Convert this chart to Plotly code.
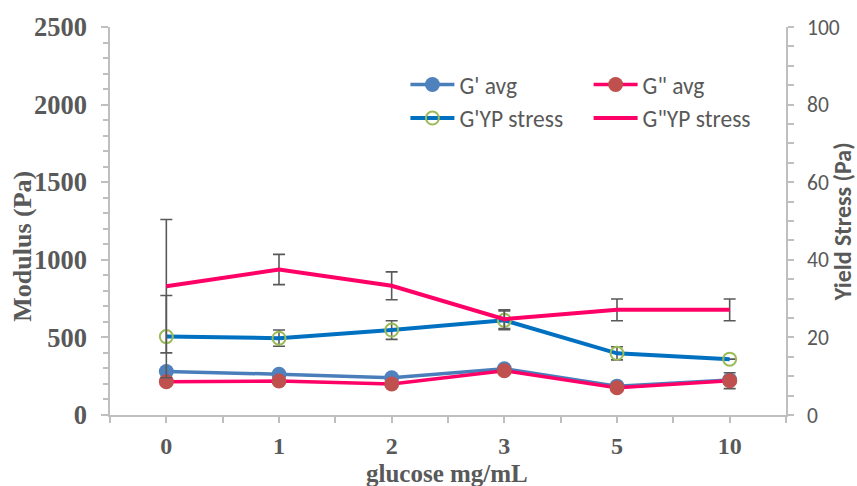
import plotly.graph_objects as go

# glucose concentration categories (mg/mL)
categories = ["0", "1", "2", "3", "5", "10"]

# storage / loss modulus averages (Pa), left axis
g_storage_avg = [280, 263, 240, 298, 186, 226]
g_loss_avg = [215, 219, 200, 285, 176, 221]
g_loss_avg_err = [0, 0, 0, 0, 0, 51]

# moduli at the yield point (Pa), right axis
g_storage_yp = [20.2, 19.8, 21.9, 24.4, 15.9, 14.4]
g_storage_yp_err = [10.6, 2.1, 2.4, 2.4, 1.7, 0.0]
g_loss_yp = [33.2, 37.5, 33.3, 24.7, 27.1, 27.1]
g_loss_yp_err = [17.2, 3.9, 3.6, 2.4, 2.8, 2.8]

left_ticks = [0, 500, 1000, 1500, 2000, 2500]
right_ticks = [0, 20, 40, 60, 80, 100]

TXT = "#595959"
AX = "#BFBFBF"
SERIF = "Times New Roman, Liberation Serif, serif"
SANS = "Calibri, Carlito, Open Sans, sans-serif"

xs = list(range(len(categories)))
err_style = dict(type="data", color="#595959", thickness=1.6, width=6)

fig = go.Figure()

fig.add_trace(go.Scatter(
    x=xs, y=g_storage_avg, name="G' avg", mode="lines+markers",
    line=dict(color="#4A7EBB", width=3.5),
    marker=dict(color="#4F81BD", size=15),
    legend="legend", legendgroup="a", yaxis="y"))
fig.add_trace(go.Scatter(
    x=xs, y=g_loss_avg, name='G" avg', mode="lines+markers",
    line=dict(color="#FF0066", width=3.5),
    marker=dict(color="#C0504D", size=15),
    error_y=dict(array=g_loss_avg_err, **err_style),
    legend="legend2", legendgroup="b", yaxis="y"))
fig.add_trace(go.Scatter(
    x=xs, y=g_storage_yp, name="G'YP stress", mode="lines+markers",
    line=dict(color="#0070C0", width=4),
    marker=dict(symbol="circle-open", color="#9BBB59", size=13,
                line=dict(width=2, color="#9BBB59")),
    error_y=dict(array=g_storage_yp_err, **err_style),
    legend="legend", legendgroup="c", yaxis="y2"))
fig.add_trace(go.Scatter(
    x=xs, y=g_loss_yp, name='G"YP stress', mode="lines",
    line=dict(color="#FF0066", width=4),
    error_y=dict(array=g_loss_yp_err, **err_style),
    legend="legend2", legendgroup="d", yaxis="y2"))

tick_common = dict(showgrid=False, zeroline=False, showline=True,
                   linecolor=AX, linewidth=1.5, tickcolor=AX, tickwidth=1.5)

legend_common = dict(font=dict(family=SANS, size=23.5, color=TXT),
                     bgcolor="rgba(0,0,0,0)", tracegroupgap=0,
                     xanchor="left", yanchor="top", itemwidth=44)

minor_x = [i + 0.5 for i in range(-1, len(categories))]

fig.update_layout(
    width=857, height=486,
    margin=dict(l=110, r=71, t=27, b=71),
    paper_bgcolor="white", plot_bgcolor="white",
    showlegend=True,
    xaxis=dict(range=[-0.5, len(categories) - 0.5], tickvals=xs,
               ticktext=categories, ticks="outside", ticklen=6,
               tickfont=dict(family=SERIF, size=24, color=TXT, weight="bold"),
               ticklabelstandoff=2,
               minor=dict(tickvals=minor_x, ticks="outside", ticklen=6,
                          tickcolor=AX, tickwidth=1.5),
               **tick_common),
    yaxis=dict(range=[0, 2500], tickvals=left_ticks, ticks="outside", ticklen=7,
               tickfont=dict(family=SERIF, size=26.5, color=TXT, weight="bold"),
               ticklabelstandoff=9,
               minor=dict(dtick=100, ticks="outside", ticklen=5,
                          tickcolor=AX, tickwidth=1.5),
               **tick_common),
    yaxis2=dict(range=[0, 100], tickvals=right_ticks, overlaying="y", side="right",
                ticks="outside", ticklen=6,
                tickfont=dict(family=SANS, size=21.5, color=TXT),
                ticklabelstandoff=9,
                minor=dict(dtick=5, ticks="outside", ticklen=6,
                           tickcolor=AX, tickwidth=1.5),
                **tick_common),
    # inward halves of the crossing tick marks
    xaxis3=dict(overlaying="x", matches="x", anchor="y", side="bottom",
                tickvals=xs, ticktext=[""] * len(xs), ticks="inside", ticklen=5,
                showline=False, showgrid=False, zeroline=False,
                tickcolor=AX, tickwidth=1.5,
                minor=dict(tickvals=minor_x, ticks="inside", ticklen=5,
                           tickcolor=AX, tickwidth=1.5)),
    yaxis3=dict(overlaying="y", matches="y", anchor="x", side="left",
                tickvals=left_ticks, ticktext=[""] * 6, ticks="inside", ticklen=7,
                showline=False, showgrid=False, zeroline=False,
                tickcolor=AX, tickwidth=1.5,
                minor=dict(dtick=100, ticks="inside", ticklen=5,
                           tickcolor=AX, tickwidth=1.5)),
    yaxis4=dict(overlaying="y", range=[0, 100], anchor="x", side="right",
                tickvals=right_ticks, ticktext=[""] * 6, ticks="inside", ticklen=6,
                showline=False, showgrid=False, zeroline=False,
                tickcolor=AX, tickwidth=1.5,
                minor=dict(dtick=5, ticks="inside", ticklen=6,
                           tickcolor=AX, tickwidth=1.5)),
    legend=dict(x=0.437, y=0.908, **legend_common),
    legend2=dict(x=0.708, y=0.908, **legend_common),
    annotations=[
        dict(text="<b>Modulus (Pa)</b>", xref="paper", yref="paper",
             x=-0.130, y=0.434, xanchor="center", yanchor="middle",
             textangle=-90, showarrow=False,
             font=dict(family=SERIF, size=26, color=TXT)),
        dict(text="<b>Yield Stress (Pa)</b>", xref="paper", yref="paper",
             x=1.083, y=0.497, xanchor="center", yanchor="middle",
             textangle=-90, showarrow=False,
             font=dict(family=SANS, size=24, color=TXT)),
        dict(text="<b>glucose mg/mL</b>", xref="paper", yref="paper",
             x=0.4985, y=-0.152, xanchor="center", yanchor="middle",
             showarrow=False,
             font=dict(family=SERIF, size=25, color=TXT)),
    ],
)

fig.write_html("out.html")
